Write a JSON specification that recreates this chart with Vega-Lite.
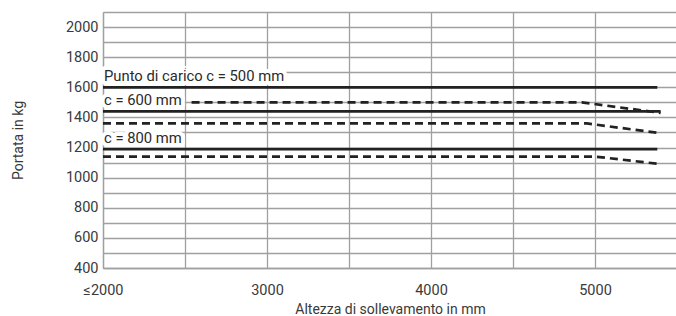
{
  "$schema": "https://vega.github.io/schema/vega-lite/v6.json",
  "width": 574,
  "height": 256,
  "autosize": {"type": "none"},
  "padding": {"left": 103, "top": 12, "right": 0, "bottom": 48},
  "background": "white",
  "config": {
    "view": {"stroke": null},
    "font": "Roboto",
    "axis": {
      "labelFont": "Roboto",
      "titleFont": "Roboto",
      "labelFontSize": 14.5,
      "titleFontSize": 14,
      "labelColor": "#3a3a3a",
      "titleColor": "#3a3a3a",
      "titleFontWeight": "normal",
      "gridColor": "#a0a0a0",
      "gridOpacity": 1,
      "gridWidth": 1.3,
      "domainColor": "#a0a0a0",
      "domainWidth": 1.3,
      "ticks": false
    }
  },
  "datasets": {
    "lines": [
      {"series": "c500 nominale", "style": "solid", "x": 2000, "y": 1600},
      {"series": "c500 nominale", "style": "solid", "x": 5380, "y": 1600},
      {"series": "c500 ridotta", "style": "dashed", "x": 2540, "y": 1500},
      {"series": "c500 ridotta", "style": "dashed", "x": 4920, "y": 1500},
      {"series": "c500 ridotta", "style": "dashed", "x": 5400, "y": 1430},
      {"series": "c600 nominale", "style": "solid", "x": 2000, "y": 1440},
      {"series": "c600 nominale", "style": "solid", "x": 5400, "y": 1440},
      {"series": "c600 ridotta", "style": "dashed", "x": 2000, "y": 1360},
      {"series": "c600 ridotta", "style": "dashed", "x": 4950, "y": 1360},
      {"series": "c600 ridotta", "style": "dashed", "x": 5400, "y": 1295},
      {"series": "c800 nominale", "style": "solid", "x": 2000, "y": 1190},
      {"series": "c800 nominale", "style": "solid", "x": 5380, "y": 1190},
      {"series": "c800 ridotta", "style": "dashed", "x": 2000, "y": 1140},
      {"series": "c800 ridotta", "style": "dashed", "x": 5000, "y": 1140},
      {"series": "c800 ridotta", "style": "dashed", "x": 5400, "y": 1090}
    ],
    "labels": [
      {"label": "Punto di carico c = 500 mm", "x": 2000, "y": 1600},
      {"label": "c = 600 mm", "x": 2000, "y": 1440},
      {"label": "c = 800 mm", "x": 2000, "y": 1190}
    ]
  },
  "encoding": {
    "x": {
      "field": "x", "type": "quantitative",
      "scale": {"domain": [2000, 5500], "nice": false, "zero": false},
      "axis": {
        "title": "Altezza di sollevamento in mm",
        "values": [2000, 2500, 3000, 3500, 4000, 4500, 5000, 5500],
        "labelExpr": "datum.value == 2000 ? '≤2000' : (datum.value % 1000 == 0 ? '' + datum.value : '')",
        "labelPadding": 15,
        "labelDx": -3,
        "titlePadding": 6,
        "labelFlush": false,
        "labelOverlap": false
      }
    },
    "y": {
      "field": "y", "type": "quantitative",
      "scale": {"domain": [400, 2100], "nice": false, "zero": false},
      "axis": {
        "title": "Portata in kg",
        "values": [400, 500, 600, 700, 800, 900, 1000, 1100, 1200, 1300, 1400, 1500, 1600, 1700, 1800, 1900, 2000, 2100],
        "labelExpr": "datum.value % 200 == 0 ? '' + datum.value : ''",
        "labelPadding": 5,
        "titlePadding": 40,
        "labelOverlap": false,
        "labelFlush": false
      }
    }
  },
  "layer": [
    {
      "data": {"name": "labels"},
      "mark": {"type": "text", "align": "left", "baseline": "bottom", "dx": 1, "dy": -3, "fontSize": 14.8, "font": "Roboto", "color": "white", "stroke": "white", "strokeWidth": 8, "strokeJoin": "round"},
      "encoding": {
        "text": {"field": "label"}
      }
    },
    {
      "data": {"name": "lines"},
      "mark": {"type": "line", "color": "#222222", "strokeWidth": 2.7, "clip": true},
      "encoding": {
        "detail": {"field": "series"},
        "strokeDash": {
          "field": "style", "type": "nominal",
          "scale": {"domain": ["solid", "dashed"], "range": [[1, 0], [8, 5]]},
          "legend": null
        }
      }
    },
    {
      "data": {"name": "labels"},
      "mark": {"type": "text", "align": "left", "baseline": "bottom", "dx": 1, "dy": -3, "fontSize": 14.8, "font": "Roboto", "color": "#2a2a2a"},
      "encoding": {
        "text": {"field": "label"}
      }
    }
  ]
}
